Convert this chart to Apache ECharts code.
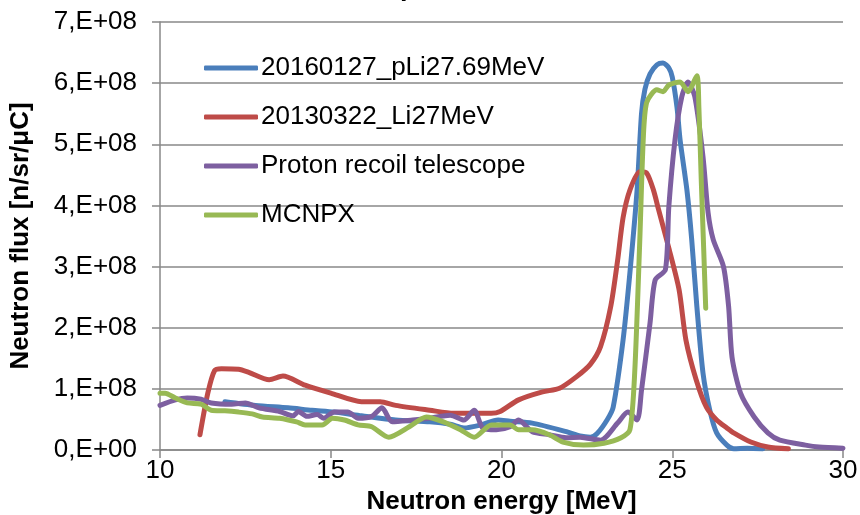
<!DOCTYPE html>
<html>
<head>
<meta charset="utf-8">
<script src="https://cdn.jsdelivr.net/npm/echarts@6/dist/echarts.min.js"></script>
<style>
html,body{margin:0;padding:0;background:#fff;}
#c{width:860px;height:515px;}
</style>
</head>
<body>
<div id="c"></div>
<script>
var seriesNames = ['20160127_pLi27.69MeV', '20130322_Li27MeV', 'Proton recoil telescope', 'MCNPX'];
var xTicks = [10, 15, 20, 25, 30];
var yTicks = [0, 1e8, 2e8, 3e8, 4e8, 5e8, 6e8, 7e8];

// Energy [MeV] and flux [x1e8 n/sr/uC]
var blueE = [11.9, 12.8, 13.75, 14.45, 15.1, 15.9, 16.9, 17.9, 18.5, 18.9, 19.4, 19.9, 20.25, 20.9, 21.9, 22.3, 22.6, 22.8, 23.1, 23.27, 23.56, 23.76, 23.97, 24.1, 24.2, 24.35, 24.55, 24.73, 24.9, 25.0, 25.14, 25.23, 25.43, 25.57, 25.72, 25.9, 26.1, 26.3, 26.6, 26.8, 27.2, 27.65];
var blueF = [0.79, 0.73, 0.69, 0.65, 0.62, 0.56, 0.49, 0.46, 0.42, 0.36, 0.41, 0.49, 0.47, 0.44, 0.30, 0.23, 0.21, 0.27, 0.50, 0.70, 1.80, 2.90, 4.25, 5.50, 5.90, 6.15, 6.30, 6.33, 6.25, 6.10, 5.60, 5.07, 4.25, 3.44, 2.35, 1.26, 0.65, 0.28, 0.08, 0.02, 0.03, 0.02];

var redE = [11.17, 11.4, 11.6, 11.8, 12.3, 12.6, 13.2, 13.6, 14.25, 15.0, 15.9, 16.45, 16.9, 17.9, 18.6, 19.7, 19.96, 20.5, 21.2, 21.7, 22.2, 22.6, 22.9, 23.2, 23.4, 23.56, 23.76, 24.05, 24.25, 24.45, 24.6, 24.9, 25.2, 25.4, 25.7, 26.0, 26.3, 26.6, 26.8, 27.3, 27.8, 28.4];
var redF = [0.25, 0.93, 1.30, 1.33, 1.32, 1.27, 1.15, 1.21, 1.06, 0.93, 0.79, 0.79, 0.73, 0.65, 0.60, 0.60, 0.63, 0.82, 0.95, 1.01, 1.20, 1.40, 1.69, 2.35, 3.10, 3.80, 4.25, 4.55, 4.53, 4.25, 3.93, 3.30, 2.62, 1.80, 1.15, 0.70, 0.49, 0.36, 0.28, 0.13, 0.05, 0.02];

var purpleE = [10.0, 10.45, 10.8, 11.2, 11.5, 12.1, 12.5, 12.9, 13.5, 13.9, 14.05, 14.3, 14.6, 14.8, 15.1, 15.5, 15.8, 16.2, 16.5, 16.8, 17.4, 17.9, 18.5, 18.9, 19.2, 19.45, 19.85, 20.25, 20.5, 20.9, 21.4, 21.9, 22.3, 22.9, 23.4, 23.7, 23.97, 24.1, 24.35, 24.5, 24.8, 24.9, 25.08, 25.28, 25.46, 25.66, 25.9, 26.05, 26.2, 26.5, 26.65, 26.75, 27.0, 27.4, 27.8, 28.15, 28.9, 29.3, 30.0];
var purpleF = [0.73, 0.82, 0.85, 0.83, 0.77, 0.75, 0.77, 0.69, 0.63, 0.56, 0.63, 0.55, 0.58, 0.52, 0.62, 0.62, 0.52, 0.55, 0.69, 0.46, 0.49, 0.52, 0.57, 0.49, 0.65, 0.36, 0.33, 0.38, 0.49, 0.30, 0.25, 0.20, 0.21, 0.16, 0.44, 0.62, 0.49, 0.98, 2.08, 2.78, 2.95, 3.98, 5.07, 5.78, 6.02, 5.78, 4.80, 3.88, 3.44, 3.00, 2.35, 1.52, 0.93, 0.54, 0.28, 0.16, 0.08, 0.05, 0.03];

var greenE = [10.0, 10.15, 10.45, 10.8, 11.2, 11.5, 11.9, 12.3, 12.7, 13.0, 13.5, 14.0, 14.25, 14.75, 15.05, 15.4, 15.8, 16.2, 16.7, 17.3, 17.8, 18.3, 18.8, 19.2, 19.7, 20.25, 20.5, 20.9, 21.4, 21.8, 22.4, 23.0, 23.5, 23.76, 23.9, 24.05, 24.15, 24.25, 24.55, 24.73, 24.9, 25.23, 25.46, 25.72, 25.78, 25.85, 25.92, 25.98];
var greenF = [0.93, 0.93, 0.85, 0.77, 0.75, 0.65, 0.64, 0.62, 0.59, 0.54, 0.52, 0.46, 0.41, 0.41, 0.52, 0.49, 0.41, 0.38, 0.21, 0.38, 0.54, 0.46, 0.33, 0.21, 0.41, 0.41, 0.33, 0.33, 0.25, 0.13, 0.08, 0.11, 0.20, 0.33, 1.26, 3.44, 5.07, 5.68, 5.89, 5.86, 5.97, 6.02, 5.86, 6.12, 5.60, 4.40, 3.30, 2.32];

var colors = ['#4A7EBB', '#BE4B48', '#7D5FA0', '#98B954'];

function pairs(e, f) { return e.map(function (x, i) { return [x, f[i] * 1e8]; }); }
var allData = [pairs(blueE, blueF), pairs(redE, redF), pairs(purpleE, purpleF), pairs(greenE, greenF)];

var font = 'Liberation Sans, Arial, sans-serif';
var chart = echarts.init(document.getElementById('c'), null, {renderer: 'canvas'});
chart.setOption({
  animation: false,
  backgroundColor: '#fff',
  color: colors,
  title: {
    text: 'p', left: 395, top: -31,
    textStyle: {fontFamily: font, fontSize: 27, fontWeight: 'bold', color: '#000'}
  },
  grid: {left: 160, right: 17, top: 22, bottom: 65, containLabel: false, outerBoundsMode: 'none'},
  legend: {
    orient: 'vertical', left: 199, top: 48,
    icon: 'roundRect',
    itemWidth: 54, itemHeight: 5, itemGap: 19,
    textStyle: {fontFamily: font, fontSize: 26, color: '#000', padding: [0, 0, 0, -2], lineHeight: 30},
    data: seriesNames
  },
  xAxis: {
    type: 'value', min: xTicks[0], max: xTicks[xTicks.length - 1], interval: 5,
    name: 'Neutron energy [MeV]', nameLocation: 'middle', nameGap: 38,
    nameTextStyle: {fontFamily: font, fontSize: 26, fontWeight: 'bold', color: '#000'},
    axisLine: {lineStyle: {color: '#888', width: 1.5}},
    axisTick: {show: true, length: 8, lineStyle: {color: '#888', width: 1.5}},
    axisLabel: {fontFamily: font, fontSize: 26, color: '#000', margin: 8},
    splitLine: {show: false}
  },
  yAxis: {
    type: 'value', min: 0, max: yTicks[yTicks.length - 1], interval: 1e8,
    name: 'Neutron flux [n/sr/\u03bcC]', nameLocation: 'middle', nameGap: 126,
    nameTextStyle: {fontFamily: font, fontSize: 26, fontWeight: 'bold', color: '#000'},
    axisLine: {show: true, lineStyle: {color: '#888', width: 1.5}},
    axisTick: {show: true, length: 8, lineStyle: {color: '#888', width: 1.5}},
    axisLabel: {
      fontFamily: font, fontSize: 26, color: '#000', margin: 23,
      formatter: function (v) {
        if (v === 0) return '0,E+00';
        return Math.round(v / 1e8) + ',E+08';
      }
    },
    splitLine: {show: true, lineStyle: {color: '#888', width: 1.5}}
  },
  series: seriesNames.map(function (n, i) {
    return {
      name: n, type: 'line', data: allData[i], symbol: 'none', smooth: 0.25,
      lineStyle: {width: 5, color: colors[i], cap: 'round', join: 'round'},
      itemStyle: {color: colors[i]},
      z: 2 + i
    };
  })
});
</script>
</body>
</html>
